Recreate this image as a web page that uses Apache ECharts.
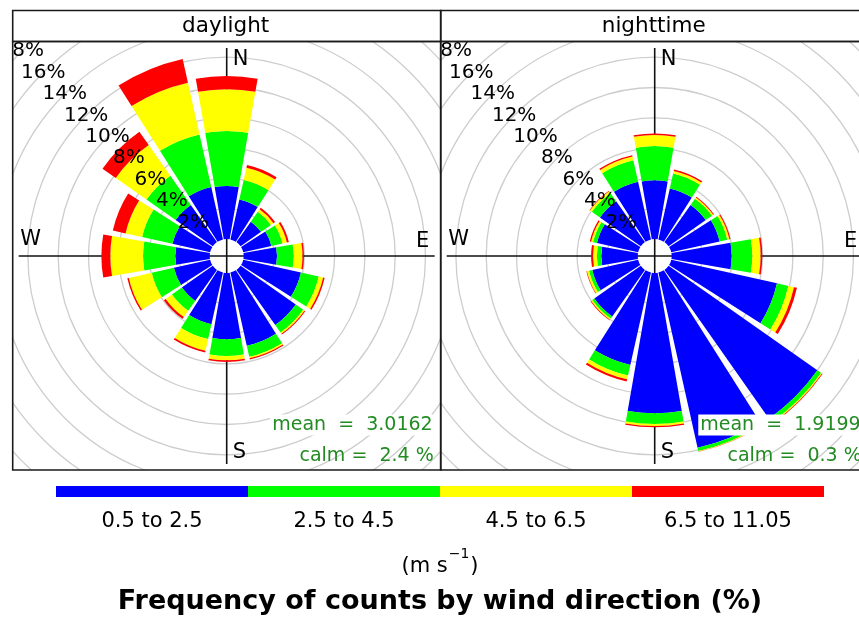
<!DOCTYPE html>
<html>
<head>
<meta charset="utf-8">
<title>Wind rose</title>
<script src="https://cdn.jsdelivr.net/npm/echarts@6.0.0/dist/echarts.min.js"></script>
<style>
html,body{margin:0;padding:0;background:#ffffff;}
#chart{width:859px;height:619px;}
</style>
</head>
<body>
<div id="chart"></div>
<script>
// ---------------- data ----------------
const directions = ['N','NNE','NE','ENE','E','ESE','SE','SSE','S','SSW','SW','WSW','W','WNW','NW','NNW'];
const speedBins = ['0.5 to 2.5','2.5 to 4.5','4.5 to 6.5','6.5 to 11.05'];
const panelNames = ['daylight','nighttime'];
const ringTicks = [2,4,6,8,10,12,14,16,18];
const compass = ['N','E','S','W'];
const compassAngles = [0,90,180,270];

// frequency of counts (%) by direction, one array per speed bin
const daylightBin1 = [3.5,2.7,1.65,1.9,2.2,3.9,4.45,4.95,4.38,3.5,2.5,2.45,2.27,2.55,3.0,3.55];
const daylightBin2 = [3.63,1.32,0.8,0.75,1.1,1.2,0.6,0.75,1.1,1.0,0.8,1.5,2.13,2.05,2.35,3.55];
const daylightBin3 = [2.75,0.83,0.2,0.3,0.58,0.3,0.1,0.1,0.28,0.78,0.5,1.55,2.16,1.12,2.48,3.5];
const daylightBin4 = [0.88,0.18,0.13,0.13,0.1,0.1,0.07,0.07,0.11,0.12,0.15,0.1,0.59,0.86,1.07,1.6];

const nighttimeBin1 = [3.87,3.45,3.0,3.27,3.96,7.15,12.0,11.85,9.26,6.25,3.75,3.1,2.4,2.78,3.3,3.9];
const nighttimeBin2 = [2.26,1.0,0.5,0.52,1.36,0.77,0.3,0.22,0.71,0.71,0.18,0.22,0.3,0.27,0.65,1.45];
const nighttimeBin3 = [0.73,0.17,0.1,0.14,0.55,0.38,0.08,0.03,0.13,0.26,0.09,0.14,0.25,0.13,0.15,0.25];
const nighttimeBin4 = [0.11,0.11,0.06,0.07,0.11,0.2,0.04,0.02,0.08,0.14,0.04,0.04,0.13,0.09,0.04,0.1];

const meanSpeed = ['3.0162','1.9199'];
const calmPct = ['2.4','0.3'];

// ---------------- layout / style ----------------
const FONT = 'DejaVu Sans';
const PX = 15.15;          // pixels per 1 %
const HOLE = 17;           // calm hole radius (px)
const OFF = HOLE / PX;     // hole expressed in % units
const HALF = 214;          // half panel size (px)
const RMAX = 20;
const CROSS = 208;         // px reach of the compass cross
const COMPASS_R = 196;     // px radius of N/E/S/W labels
const centers = [[226.7, 256], [654.7, 256]];
const colors = ['#0000ff','#00ff00','#ffff00','#ff0000'];
const compassOffsets = {N:[6,0,'left'], E:[0,-14,'center'], S:[6,1,'left'], W:[0,-16,'center']};

const freq = [
  [daylightBin1, daylightBin2, daylightBin3, daylightBin4],
  [nighttimeBin1, nighttimeBin2, nighttimeBin3, nighttimeBin4]
];

const option = {
  animation: false,
  backgroundColor: '#ffffff',
  polar: [], angleAxis: [], radiusAxis: [],
  grid: [], xAxis: [], yAxis: [],
  series: [], graphic: []
};

panelNames.forEach((name, i) => {
  const cx = centers[i][0], cy = centers[i][1];
  option.polar.push({ center: [cx, cy], radius: [HOLE, HOLE + PX * RMAX] });
  option.angleAxis.push({
    polarIndex: i, type: 'category', data: directions,
    startAngle: 90 + 180 / directions.length, clockwise: true, boundaryGap: true,
    axisLine: {show: false}, axisTick: {show: false}, axisLabel: {show: false}, splitLine: {show: false}
  });
  option.radiusAxis.push({
    polarIndex: i, type: 'value', min: 0, max: RMAX,
    axisLine: {show: false}, axisTick: {show: false}, axisLabel: {show: false}, splitLine: {show: false}
  });
  option.grid.push({ left: cx - HALF, top: cy - HALF, width: 2 * HALF, height: 2 * HALF, containLabel: false, outerBoundsMode: 'none' });
  option.xAxis.push({ gridIndex: i, type: 'value', min: -HALF / PX, max: HALF / PX, show: false });
  option.yAxis.push({ gridIndex: i, type: 'value', min: -HALF / PX, max: HALF / PX, show: false });

  // grey rings
  option.series.push({
    type: 'custom', coordinateSystem: 'cartesian2d', xAxisIndex: i, yAxisIndex: i,
    clip: true, silent: true, z: 1,
    data: ringTicks.map(v => [v, 0]),
    renderItem: (p, api) => {
      const c = api.coord([0, 0]);
      const r = api.size([api.value(0) + OFF, 0])[0];
      return { type: 'circle', shape: {cx: c[0], cy: c[1], r: r},
               style: {fill: 'none', stroke: '#cdcdcd', lineWidth: 1.3} };
    }
  });
  // compass cross + letters
  option.series.push({
    type: 'custom', coordinateSystem: 'cartesian2d', xAxisIndex: i, yAxisIndex: i,
    clip: true, silent: true, z: 1,
    data: compassAngles.map((a, k) => [a, k]),
    renderItem: (p, api) => {
      const a = api.value(0) * Math.PI / 180;
      const lab = compass[api.value(1)];
      const c = api.coord([0, 0]);
      const e = api.coord([Math.sin(a) * CROSS / PX, Math.cos(a) * CROSS / PX]);
      const t = api.coord([Math.sin(a) * COMPASS_R / PX, Math.cos(a) * COMPASS_R / PX]);
      const o = compassOffsets[lab];
      return { type: 'group', children: [
        { type: 'line', shape: {x1: c[0], y1: c[1], x2: e[0], y2: e[1]},
          style: {stroke: '#111111', lineWidth: 1.6} },
        { type: 'text', x: t[0] + o[0], y: t[1] + o[1],
          style: {text: lab, fill: '#000', fontSize: 21, fontFamily: FONT,
                  align: o[2], textAlign: o[2], verticalAlign: 'middle', textVerticalAlign: 'middle'} }
      ]};
    }
  });
  // stacked wedges
  speedBins.forEach((b, j) => {
    option.series.push({
      type: 'bar', name: b, coordinateSystem: 'polar', polarIndex: i, stack: 'rose' + i,
      data: freq[i][j], barCategoryGap: '12%', silent: true, z: 2,
      itemStyle: {color: colors[j]}
    });
  });
  // ring labels along NW diagonal
  option.series.push({
    type: 'custom', coordinateSystem: 'cartesian2d', xAxisIndex: i, yAxisIndex: i,
    clip: true, silent: true, z: 5,
    data: ringTicks.map(v => [v, 0]),
    renderItem: (p, api) => {
      const v = api.value(0);
      const d = (v + OFF) * Math.SQRT1_2;
      const pt = api.coord([-d, d]);
      return { type: 'text', x: pt[0], y: pt[1],
               style: {text: v + '%', fill: '#000', fontSize: 20, fontFamily: FONT,
                       align: 'center', textAlign: 'center', verticalAlign: 'middle', textVerticalAlign: 'middle'} };
    }
  });

  // frames and strip
  const x0 = cx - HALF;
  option.graphic.push({ type: 'rect', z: 20, silent: true,
    shape: {x: x0, y: 10.5, width: 2 * HALF, height: 31},
    style: {fill: 'none', stroke: '#1a1a1a', lineWidth: 1.6} });
  option.graphic.push({ type: 'rect', z: 20, silent: true,
    shape: {x: x0, y: 41.5, width: 2 * HALF, height: 428.5},
    style: {fill: 'none', stroke: '#1a1a1a', lineWidth: 1.6} });
  option.graphic.push({ type: 'text', z: 20, silent: true, x: cx - 1, y: 26.5,
    style: {text: name, fill: '#000', font: '21.5px "DejaVu Sans"',
            align: 'center', textAlign: 'center', verticalAlign: 'middle', textVerticalAlign: 'middle'} });
  option.graphic.push({ type: 'text', z: 15, silent: true, x: cx + 207, y: 425,
    style: {text: 'mean  =  ' + meanSpeed[i], fill: '#228b22', font: '19px "DejaVu Sans"',
            align: 'right', textAlign: 'right', verticalAlign: 'middle', textVerticalAlign: 'middle',
            backgroundColor: '#ffffff', padding: [1, 1, 1, 2]} });
  option.graphic.push({ type: 'text', z: 15, silent: true, x: cx + 207, y: 456,
    style: {text: 'calm =  ' + calmPct[i] + ' %', fill: '#228b22', font: '19px "DejaVu Sans"',
            align: 'right', textAlign: 'right', verticalAlign: 'middle', textVerticalAlign: 'middle'} });
});

// ---------------- colour key ----------------
option.grid.push({ left: 56, top: 486, width: 768, height: 11, containLabel: false, outerBoundsMode: 'none' });
option.xAxis.push({
  gridIndex: 2, type: 'category', data: speedBins,
  axisLine: {show: false}, axisTick: {show: false}, splitLine: {show: false},
  axisLabel: {interval: 0, fontSize: 21, fontFamily: FONT, color: '#000', margin: 14},
  name: '{n|(m s}{s|\u22121}{n|)}', nameLocation: 'middle', nameGap: 50,
  nameTextStyle: {fontSize: 21, fontFamily: FONT, color: '#000',
    rich: {
      n: {fontSize: 21, fontFamily: FONT, color: '#000', lineHeight: 30, verticalAlign: 'bottom'},
      s: {fontSize: 14, fontFamily: FONT, color: '#000', lineHeight: 30, verticalAlign: 'top', padding: [0, 1, 0, 1]}
    }}
});
option.yAxis.push({ gridIndex: 2, type: 'value', min: 0, max: 1, show: false });
option.series.push({
  type: 'bar', xAxisIndex: 2, yAxisIndex: 2, silent: true, barCategoryGap: '0%',
  data: speedBins.map((b, j) => ({value: 1, itemStyle: {color: colors[j]}}))
});

option.graphic.push({ type: 'text', z: 20, silent: true, x: 440, y: 602,
  style: {text: 'Frequency of counts by wind direction (%)', fill: '#000',
          font: 'bold 27px "DejaVu Sans"',
          align: 'center', textAlign: 'center', verticalAlign: 'middle', textVerticalAlign: 'middle'} });

const chart = echarts.init(document.getElementById('chart'), null, {renderer: 'canvas'});
chart.setOption(option);
</script>
</body>
</html>
